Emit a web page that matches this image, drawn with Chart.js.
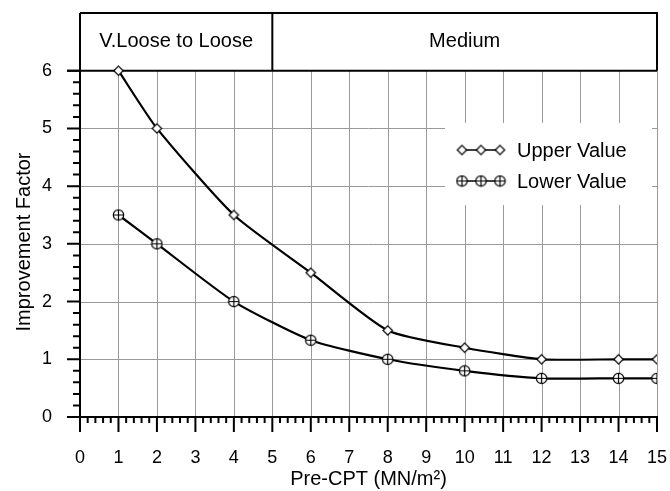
<!DOCTYPE html>
<html>
<head>
<meta charset="utf-8">
<script src="https://cdn.jsdelivr.net/npm/chart.js@4"></script>
<style>
  html, body { margin: 0; padding: 0; background: #fff; }
  #wrap { width: 670px; height: 491px; }
</style>
</head>
<body>
<div id="wrap"><canvas id="chart" width="670" height="491"></canvas></div>
<script>
// data
const preCpt = [1, 2, 4, 6, 8, 10, 12, 14, 15];
const upperValue = [6, 5, 3.5, 2.5, 1.5, 1.2, 1, 1, 1];
const lowerValue = [3.5, 3, 2, 1.33, 1, 0.8, 0.67, 0.67, 0.67];
const seriesNames = ["Upper Value", "Lower Value"];
const xTicks = [0, 1, 2, 3, 4, 5, 6, 7, 8, 9, 10, 11, 12, 13, 14, 15];
const yTicks = [0, 1, 2, 3, 4, 5, 6];
const bandNames = ["V.Loose to Loose", "Medium"];
const bandEdges = [0, 5, 15];
const yTitle = "Improvement Factor";

const FONT = "'Liberation Sans', Arial, sans-serif";
const GRID = "#9a9a9a";

function makeMarker(kind) {
    const c = document.createElement("canvas");
    c.width = 13; c.height = 13;
    const g = c.getContext("2d");
    g.fillStyle = "#fff";
    g.strokeStyle = "#000";
    g.lineWidth = 1.2;
    g.beginPath();
    if (kind === "diamond") {
        g.moveTo(6.5, 1.8); g.lineTo(11.2, 6.5); g.lineTo(6.5, 11.2); g.lineTo(1.8, 6.5); g.closePath();
        g.fill(); g.stroke();
    } else {
        g.arc(6.5, 6.5, 5.2, 0, Math.PI * 2);
        g.fill(); g.stroke();
        g.beginPath();
        g.moveTo(1.3, 6.5); g.lineTo(11.7, 6.5);
        g.moveTo(6.5, 1.3); g.lineTo(6.5, 11.7);
        g.stroke();
    }
    return c;
}
const diamond = makeMarker("diamond");
const circlePlus = makeMarker("circle");

function pts(ys) { return preCpt.map((x, i) => ({ x: x, y: ys[i] })); }

// grid, band boxes, minor ticks
const framePlugin = {
    id: "frame",
    beforeDatasetsDraw(chart) {
        const ctx = chart.ctx;
        const xs = chart.scales.x, ys = chart.scales.y;
        const X = v => xs.getPixelForValue(v), Y = v => ys.getPixelForValue(v);
        ctx.save();
        ctx.lineCap = "butt";
        // gray grid
        ctx.strokeStyle = GRID; ctx.lineWidth = 1;
        ctx.beginPath();
        xTicks.forEach(v => {
            if (v === 0) return;
            const px = Math.round(X(v)) + 0.5;
            ctx.moveTo(px, Y(0)); ctx.lineTo(px, Y(6));
        });
        yTicks.forEach(v => {
            if (v === 0 || v === 6) return;
            const py = Math.round(Y(v)) + 0.5;
            ctx.moveTo(X(0), py); ctx.lineTo(X(15), py);
        });
        ctx.stroke();

        // band boxes
        ctx.strokeStyle = "#000"; ctx.lineWidth = 2;
        ctx.beginPath();
        ctx.moveTo(X(0), Y(7)); ctx.lineTo(X(15), Y(7)); ctx.lineTo(X(15), Y(6));
        ctx.moveTo(X(0) - 13, Y(6)); ctx.lineTo(X(15), Y(6));
        ctx.moveTo(X(5), Y(7)); ctx.lineTo(X(5), Y(6));
        ctx.stroke();
        ctx.fillStyle = "#000";
        ctx.font = "20px " + FONT;
        ctx.textAlign = "center"; ctx.textBaseline = "middle";
        bandNames.forEach((name, i) => {
            ctx.fillText(name, (X(bandEdges[i]) + X(bandEdges[i + 1])) / 2, (Y(7) + Y(6)) / 2);
        });

        // y title, sits a bit below the axis middle as in the figure
        ctx.save();
        ctx.translate(24, 242);
        ctx.rotate(-Math.PI / 2);
        ctx.fillText(yTitle, 0, 0);
        ctx.restore();

        // axes
        ctx.beginPath();
        ctx.moveTo(X(0), Y(7)); ctx.lineTo(X(0), Y(0));
        ctx.moveTo(X(0) - 13, Y(0)); ctx.lineTo(X(15) + 1, Y(0));
        ctx.stroke();

        // ticks
        ctx.lineWidth = 2;
        ctx.beginPath();
        for (let k = 0; k <= 75; k++) {
            const v = k / 5;
            const px = X(v);
            const len = k % 5 === 0 ? 15 : 6;
            ctx.moveTo(px, Y(0)); ctx.lineTo(px, Y(0) + len);
        }
        for (let k = 0; k <= 30; k++) {
            const v = k / 5;
            const py = Y(v);
            const len = k % 5 === 0 ? 13 : 7;
            ctx.moveTo(X(0), py); ctx.lineTo(X(0) - len, py);
        }
        ctx.stroke();
        ctx.restore();
    },
    afterDatasetsDraw(chart) {
        const ctx = chart.ctx;
        ctx.save();
        ctx.fillStyle = "#fff";
        ctx.fillRect(445, 123, 207, 82);
        ctx.font = "20px " + FONT;
        ctx.textAlign = "left"; ctx.textBaseline = "middle";
        const markers = [diamond, circlePlus];
        [150, 181].forEach((ly, i) => {
            ctx.strokeStyle = "#000"; ctx.lineWidth = 1.5;
            ctx.beginPath(); ctx.moveTo(462, ly); ctx.lineTo(501, ly); ctx.stroke();
            [462, 481, 500].forEach(mx => ctx.drawImage(markers[i], mx - 6.5, ly - 6.5));
            ctx.fillStyle = "#000";
            ctx.fillText(seriesNames[i], 517, ly + 1);
        });
        ctx.restore();
    }
};

new Chart(document.getElementById("chart"), {
    type: "line",
    data: {
        datasets: [
            { label: seriesNames[0], data: pts(upperValue), borderColor: "#000", borderWidth: 2.2,
              pointStyle: diamond, pointRadius: 6, tension: 0.2 },
            { label: seriesNames[1], data: pts(lowerValue), borderColor: "#000", borderWidth: 2.2,
              pointStyle: circlePlus, pointRadius: 6, tension: 0.2 }
        ]
    },
    options: {
        responsive: false,
        animation: false,
        layout: { padding: { top: 13, right: 13, left: 0, bottom: 0 } },
        plugins: { legend: { display: false }, tooltip: { enabled: false } },
        scales: {
            x: {
                type: "linear", min: 0, max: 15,
                afterBuildTicks: s => { s.ticks = xTicks.map(v => ({ value: v })); },
                afterFit: s => { s.height = 74; s.paddingLeft = 0; s.paddingRight = 0; },
                grid: { display: false, drawTicks: false },
                border: { display: false },
                ticks: { color: "#000", font: { family: FONT, size: 18 }, padding: 30, maxRotation: 0, autoSkip: false },
                title: { display: true, text: "Pre-CPT (MN/m²)", color: "#000",
                         font: { family: FONT, size: 20 }, padding: { top: 0, bottom: 0 } }
            },
            y: {
                type: "linear", min: 0, max: 7,
                afterBuildTicks: s => { s.ticks = yTicks.map(v => ({ value: v })); },
                afterFit: s => { s.width = 80; s.paddingTop = 0; s.paddingBottom = 0; },
                grid: { display: false, drawTicks: false },
                border: { display: false },
                ticks: { color: "#000", font: { family: FONT, size: 18 }, padding: 28 },
                title: { display: false }
            }
        }
    },
    plugins: [framePlugin]
});
</script>
</body>
</html>
